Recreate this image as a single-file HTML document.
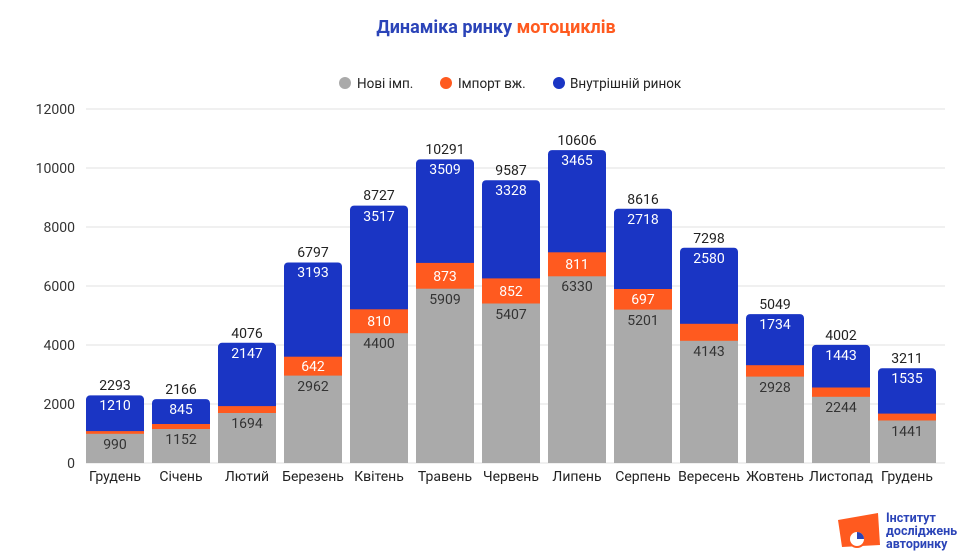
<!DOCTYPE html>
<html><head><meta charset="utf-8"><style>
html,body{margin:0;padding:0;background:#fff;}
svg{display:block;font-family:"Roboto","Liberation Sans",sans-serif;}
</style></head><body>
<svg width="980" height="560" viewBox="0 0 980 560" xmlns="http://www.w3.org/2000/svg">
<rect width="980" height="560" fill="#fff"/>
<text x="496" y="33" text-anchor="middle" font-size="18" font-weight="bold"><tspan fill="#2b44b8">Динаміка ринку </tspan><tspan fill="#ff5a1f">мотоциклів</tspan></text>
<g font-size="13.5" fill="#222">
<circle cx="345" cy="83" r="6" fill="#aaa"/><text x="357" y="88">Нові імп.</text>
<circle cx="446" cy="83" r="6" fill="#ff5a1f"/><text x="458" y="88">Імпорт вж.</text>
<circle cx="559" cy="83" r="6" fill="#1a35c4"/><text x="570" y="88">Внутрішній ринок</text>
</g>
<g stroke="#e2e2e2" stroke-width="1">
<line x1="86" x2="945" y1="109" y2="109"/><line x1="86" x2="945" y1="168" y2="168"/><line x1="86" x2="945" y1="227" y2="227"/><line x1="86" x2="945" y1="286" y2="286"/><line x1="86" x2="945" y1="345" y2="345"/><line x1="86" x2="945" y1="404" y2="404"/><line x1="86" x2="945" y1="463" y2="463"/>
</g>
<g font-size="14" fill="#333" text-anchor="end">
<text x="75" y="114">12000</text><text x="75" y="173">10000</text><text x="75" y="232">8000</text><text x="75" y="291">6000</text><text x="75" y="350">4000</text><text x="75" y="409">2000</text><text x="75" y="468">0</text>
</g>
<g fill="#1a35c4">
<rect x="86" y="395.4" width="58" height="67.6" rx="4"/>
<rect x="152" y="399.1" width="58" height="63.9" rx="4"/>
<rect x="218" y="342.8" width="58" height="120.2" rx="4"/>
<rect x="284" y="262.5" width="58" height="200.5" rx="4"/>
<rect x="350" y="205.6" width="58" height="257.4" rx="4"/>
<rect x="416" y="159.4" width="58" height="303.6" rx="4"/>
<rect x="482" y="180.2" width="58" height="282.8" rx="4"/>
<rect x="548" y="150.1" width="58" height="312.9" rx="4"/>
<rect x="614" y="208.8" width="58" height="254.2" rx="4"/>
<rect x="680" y="247.7" width="58" height="215.3" rx="4"/>
<rect x="746" y="314.1" width="58" height="148.9" rx="4"/>
<rect x="812" y="344.9" width="58" height="118.1" rx="4"/>
<rect x="878" y="368.3" width="58" height="94.7" rx="4"/>
</g>
<g fill="#ff5a1f">
<rect x="86" y="431.1" width="58" height="31.9"/>
<rect x="152" y="424.0" width="58" height="39"/>
<rect x="218" y="406.1" width="58" height="56.9"/>
<rect x="284" y="356.7" width="58" height="106.3"/>
<rect x="350" y="309.3" width="58" height="153.7"/>
<rect x="416" y="262.9" width="58" height="200.1"/>
<rect x="482" y="278.4" width="58" height="184.6"/>
<rect x="548" y="252.3" width="58" height="210.7"/>
<rect x="614" y="289.0" width="58" height="174"/>
<rect x="680" y="323.8" width="58" height="139.2"/>
<rect x="746" y="365.2" width="58" height="97.8"/>
<rect x="812" y="387.5" width="58" height="75.5"/>
<rect x="878" y="413.6" width="58" height="49.4"/>
</g>
<g fill="#aaaaaa">
<rect x="86" y="433.8" width="58" height="29.2"/>
<rect x="152" y="429.0" width="58" height="34"/>
<rect x="218" y="413.0" width="58" height="50"/>
<rect x="284" y="375.6" width="58" height="87.4"/>
<rect x="350" y="333.2" width="58" height="129.8"/>
<rect x="416" y="288.7" width="58" height="174.3"/>
<rect x="482" y="303.5" width="58" height="159.5"/>
<rect x="548" y="276.3" width="58" height="186.7"/>
<rect x="614" y="309.6" width="58" height="153.4"/>
<rect x="680" y="340.8" width="58" height="122.2"/>
<rect x="746" y="376.6" width="58" height="86.4"/>
<rect x="812" y="396.8" width="58" height="66.2"/>
<rect x="878" y="420.5" width="58" height="42.5"/>
</g>
<g font-size="14" text-anchor="middle" fill="#222">
<text x="115" y="390">2293</text><text x="181" y="394">2166</text><text x="247" y="338">4076</text><text x="313" y="257">6797</text><text x="379" y="200">8727</text><text x="445" y="154">10291</text><text x="511" y="175">9587</text><text x="577" y="145">10606</text><text x="643" y="204">8616</text><text x="709" y="243">7298</text><text x="775" y="309">5049</text><text x="841" y="340">4002</text><text x="907" y="363">3211</text>
</g>
<g font-size="14" text-anchor="middle" fill="#fff">
<text x="115" y="410">1210</text><text x="181" y="414">845</text><text x="247" y="358">2147</text><text x="313" y="277">3193</text><text x="379" y="221">3517</text><text x="445" y="174">3509</text><text x="511" y="195">3328</text><text x="577" y="165">3465</text><text x="643" y="224">2718</text><text x="709" y="263">2580</text><text x="775" y="329">1734</text><text x="841" y="360">1443</text><text x="907" y="383">1535</text>
<text x="313" y="371">642</text><text x="379" y="326">810</text><text x="445" y="281">873</text><text x="511" y="296">852</text><text x="577" y="269">811</text><text x="643" y="304">697</text>
</g>
<g font-size="14" text-anchor="middle" fill="#333">
<text x="115" y="449">990</text><text x="181" y="444">1152</text><text x="247" y="428">1694</text><text x="313" y="391">2962</text><text x="379" y="348">4400</text><text x="445" y="304">5909</text><text x="511" y="319">5407</text><text x="577" y="291">6330</text><text x="643" y="325">5201</text><text x="709" y="356">4143</text><text x="775" y="392">2928</text><text x="841" y="412">2244</text><text x="907" y="436">1441</text>
</g>
<g font-size="14" text-anchor="middle" fill="#222">
<text x="115" y="481">Грудень</text><text x="181" y="481">Січень</text><text x="247" y="481">Лютий</text><text x="313" y="481">Березень</text><text x="379" y="481">Квітень</text><text x="445" y="481">Травень</text><text x="511" y="481">Червень</text><text x="577" y="481">Липень</text><text x="643" y="481">Серпень</text><text x="709" y="481">Вересень</text><text x="775" y="481">Жовтень</text><text x="841" y="481">Листопад</text><text x="907" y="481">Грудень</text>
</g>
<path d="M838 520 L878 513 L880 545 L842 547 Z" fill="#ff5a1f"/>
<circle cx="857" cy="539" r="8" fill="#fff" stroke="#ff5a1f" stroke-width="2"/>
<path d="M857 539 L857 532 A7 7 0 0 1 864 539 Z" fill="#2b44b8"/>
<g font-size="12.5" font-weight="bold" fill="#2b44b8">
<text x="886" y="522">Інститут</text><text x="886" y="535">досліджень</text><text x="886" y="548">авторинку</text>
</g>
</svg>
</body></html>
